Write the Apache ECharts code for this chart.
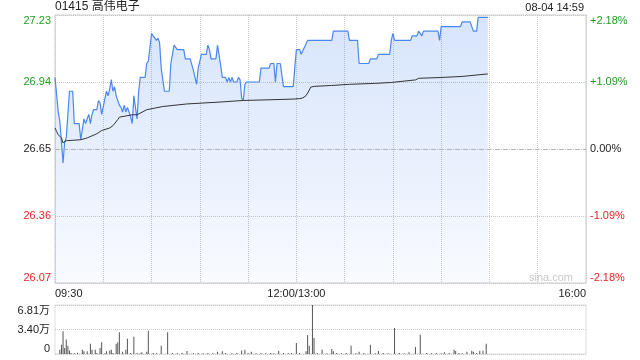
<!DOCTYPE html>
<html><head><meta charset="utf-8">
<script src="https://cdn.jsdelivr.net/npm/echarts@6/dist/echarts.min.js"></script>
<style>html,body{margin:0;padding:0;background:#fff}#c{width:640px;height:360px}</style>
</head><body><div id="c"></div>
<script>
// ---- data ----
const stockTitle = '01415 高伟电子';
const stampText = '08-04 14:59';
const prevClose = 26.65;
const priceTicks = [26.07, 26.36, 26.65, 26.94, 27.23];
const pctTicks = [-2.18, -1.09, 0, 1.09, 2.18];
const volTicks = [0, 34050, 68100];
const timeTickMinutes = [0, 150, 330];
const timeTickLabels = ['09:30', '12:00/13:00', '16:00'];

// minute index since 09:30 (lunch removed) and price
const priceMinute = [0,2,3,4,5,6,7,8,9,11,12,15,16,18,19,20,21,22,23,24,26,27,28,29,30,32,33,34,35,36,37,38,39,40,41,42,43,44,45,46,47,48,49,50,51,52,53,56,57,58,60,61,62,63,64,65,66,67,68,71,72,73,74,75,76,80,81,84,86,87,88,89,90,91,94,95,96,97,100,101,102,103,104,106,107,108,109,110,111,113,114,115,116,117,118,119,127,128,133,134,136,137,138,140,141,142,148,150,152,153,157,172,173,182,183,188,189,195,196,200,201,208,209,210,211,221,222,225,226,227,228,229,238,239,240,252,253,258,260,262,263,269];
const priceValue = [26.96,26.81,26.77,26.68,26.59,26.68,26.70,26.70,26.90,26.90,26.76,26.76,26.69,26.78,26.76,26.78,26.80,26.76,26.80,26.82,26.82,26.86,26.85,26.80,26.80,26.90,26.88,26.91,26.95,26.90,26.92,26.88,26.88,26.84,26.83,26.81,26.84,26.81,26.83,26.81,26.79,26.76,26.88,26.88,26.78,26.90,26.96,26.96,27.02,27.03,27.15,27.14,27.13,27.12,27.13,27.11,27.00,27.00,26.90,26.90,27.02,27.02,27.10,27.10,27.08,27.08,27.04,27.04,26.99,26.99,26.93,27.00,27.00,27.06,27.06,27.10,27.08,27.04,27.04,27.10,27.10,27.01,26.96,26.96,26.94,26.96,26.94,26.96,26.94,26.94,26.96,26.95,26.87,26.86,26.93,26.94,26.94,27.00,27.00,27.02,27.02,26.94,27.02,27.02,26.97,26.92,26.92,27.08,27.08,27.06,27.12,27.12,27.16,27.16,27.12,27.12,27.02,27.02,27.04,27.04,27.06,27.06,27.12,27.15,27.12,27.12,27.14,27.14,27.16,27.16,27.14,27.16,27.16,27.12,27.18,27.18,27.20,27.20,27.16,27.16,27.22,27.22];

const avgMinute = [0,1,2,3,4,5,6,7,16,20,26,29,34,36,39,40,48,51,57,58,67,82,102,117,133,148,152,154,156,157,159,161,172,183,199,209,210,224,226,238,253,269];
const avgValue = [26.741,26.726,26.712,26.716,26.698,26.676,26.669,26.686,26.690,26.698,26.716,26.730,26.741,26.751,26.777,26.788,26.798,26.798,26.820,26.826,26.834,26.845,26.853,26.860,26.863,26.866,26.868,26.871,26.881,26.892,26.918,26.921,26.925,26.930,26.934,26.938,26.946,26.949,26.956,26.959,26.964,26.975];

const volMinute = [3,4,5,6,7,8,9,10,12,14,17,18,20,22,23,25,26,28,29,31,32,34,35,36,38,39,40,42,44,45,47,49,51,53,54,57,58,61,63,66,70,73,76,79,82,86,89,92,95,98,101,104,106,110,113,116,118,120,122,125,128,131,134,136,139,142,145,147,150,152,156,157,158,160,161,163,166,169,172,173,175,178,181,184,187,189,192,196,199,201,204,207,211,214,217,220,224,227,231,234,237,240,242,245,248,249,251,253,256,259,260,262,264,266,268];
const volValue = [6000,13000,31500,8300,20000,11500,5000,1500,1200,1800,6000,3700,3700,14300,6000,6000,1500,8300,16300,1200,3700,5000,6000,1500,14300,16300,30100,3200,6000,21300,1500,24000,1400,1200,2300,3200,32400,1500,1200,11500,30100,1500,1200,1500,4000,1200,1500,1200,1500,1200,3200,3700,1500,1200,1500,5000,6000,1500,3200,1200,1500,1200,1500,1200,4000,1500,1200,1500,15300,1500,3700,26400,11500,68100,22200,1500,6000,1200,7000,3700,1500,1200,1500,11500,1200,3200,1500,13000,1200,4000,1500,1200,36100,1500,1200,2300,9700,26800,1500,1200,1500,1200,2300,1500,6000,4000,1500,1200,3200,4600,3200,1500,4600,4600,14300];

// ---- chart ----
const FONT = 'Arial, "Liberation Sans", "Noto Sans CJK SC", sans-serif';
const GREEN = '#1e9e1e', RED = '#e62424', DARK = '#222';
const sgnColor = d => d > 1e-6 ? GREEN : (d < -1e-6 ? RED : DARK);
const r2 = v => Math.round(v * 100) / 100;

const chart = echarts.init(document.getElementById('c'), null, {renderer: 'canvas'});
const option = {
  animation: false,
  textStyle: {fontFamily: FONT},
  title: [
    {text: stockTitle, left: 55, top: 1, padding: 0, textStyle: {fontSize: 12, fontWeight: 'normal', color: '#222', fontFamily: FONT}},
    {text: stampText, right: 56, top: 2, padding: 0, textStyle: {fontSize: 11, fontWeight: 'normal', color: '#222', fontFamily: FONT}}
  ],
  graphic: [{type: 'text', right: 67, top: 272, silent: true, style: {text: 'sina.com', fill: '#c8c8c8', font: '11px Arial, "Liberation Sans", sans-serif'}}],
  grid: [
    {left: 55, right: 54, top: 15, height: 268, show: true, borderColor: '#ccc', borderWidth: 1},
    {left: 55, right: 54, top: 305, height: 49, show: true, borderColor: '#ddd', borderWidth: 1}
  ],
  xAxis: [
    {gridIndex: 0, type: 'value', min: 0, max: 330, interval: 30,
      axisLine: {show: false}, axisTick: {show: false},
      axisLabel: {margin: 5, fontSize: 11, color: '#222', fontFamily: FONT, showMinLabel: true, showMaxLabel: true,
        alignMinLabel: 'left', alignMaxLabel: 'right',
        formatter: v => { const i = timeTickMinutes.indexOf(Math.round(v)); return i >= 0 ? timeTickLabels[i] : ''; }},
      splitLine: {show: true, lineStyle: {type: 'dotted', color: '#c8c8c8', width: 1}}},
    {gridIndex: 1, type: 'value', min: 0, max: 330, show: false}
  ],
  yAxis: [
    {gridIndex: 0, type: 'value', min: priceTicks[0], max: priceTicks[priceTicks.length - 1], interval: r2(priceTicks[1] - priceTicks[0]),
      axisLine: {show: false}, axisTick: {show: false},
      axisLabel: {margin: 4, fontSize: 11, fontFamily: FONT, showMinLabel: true, showMaxLabel: true,
        verticalAlignMaxLabel: 'top', verticalAlignMinLabel: 'bottom',
        formatter: v => v.toFixed(2), color: v => sgnColor(v - prevClose)},
      splitLine: {show: true, lineStyle: {type: 'dotted', color: '#c8c8c8', width: 1}}},
    {gridIndex: 0, type: 'value', position: 'right', min: pctTicks[0], max: pctTicks[pctTicks.length - 1], interval: r2(pctTicks[1] - pctTicks[0]),
      axisLine: {show: false}, axisTick: {show: false}, splitLine: {show: false},
      axisLabel: {margin: 4, fontSize: 11, fontFamily: FONT, showMinLabel: true, showMaxLabel: true,
        verticalAlignMaxLabel: 'top', verticalAlignMinLabel: 'bottom',
        formatter: v => Math.abs(v) < 1e-6 ? '0.00%' : (v > 0 ? '+' : '') + v.toFixed(2) + '%',
        color: v => sgnColor(v)}},
    {gridIndex: 1, type: 'value', min: volTicks[0], max: volTicks[volTicks.length - 1], interval: volTicks[1] - volTicks[0],
      axisLine: {show: false}, axisTick: {show: false},
      axisLabel: {margin: 5, fontSize: 11, color: '#222', fontFamily: FONT, showMinLabel: true, showMaxLabel: true,
        verticalAlignMaxLabel: 'top', verticalAlignMinLabel: 'bottom',
        formatter: v => v < 1 ? '0' : (Math.floor(v / 100) / 100).toFixed(2) + '万'},
      splitLine: {show: true, lineStyle: {type: 'dotted', color: '#c8c8c8', width: 1}}}
  ],
  series: [
    {type: 'line', xAxisIndex: 0, yAxisIndex: 0, showSymbol: false, silent: true,
      data: priceMinute.map((m, i) => [m, priceValue[i]]),
      lineStyle: {color: '#4a87ef', width: 1.2},
      areaStyle: {origin: 'start', color: new echarts.graphic.LinearGradient(0, 0, 0, 1, [
        {offset: 0, color: 'rgba(74,135,239,0.32)'}, {offset: 1, color: 'rgba(74,135,239,0.05)'}])},
      markLine: {silent: true, symbol: 'none', label: {show: false},
        lineStyle: {type: [4, 4], color: '#b0b0b0', width: 1}, data: [{yAxis: prevClose}]}},
    {type: 'line', xAxisIndex: 0, yAxisIndex: 0, showSymbol: false, silent: true,
      data: avgMinute.map((m, i) => [m, avgValue[i]]),
      lineStyle: {color: '#333', width: 1}},
    {type: 'bar', xAxisIndex: 1, yAxisIndex: 2, barWidth: 1, silent: true,
      data: volMinute.map((m, i) => [m, volValue[i]]),
      itemStyle: {color: '#555'}}
  ]
};
chart.setOption(option);
</script>
</body></html>
